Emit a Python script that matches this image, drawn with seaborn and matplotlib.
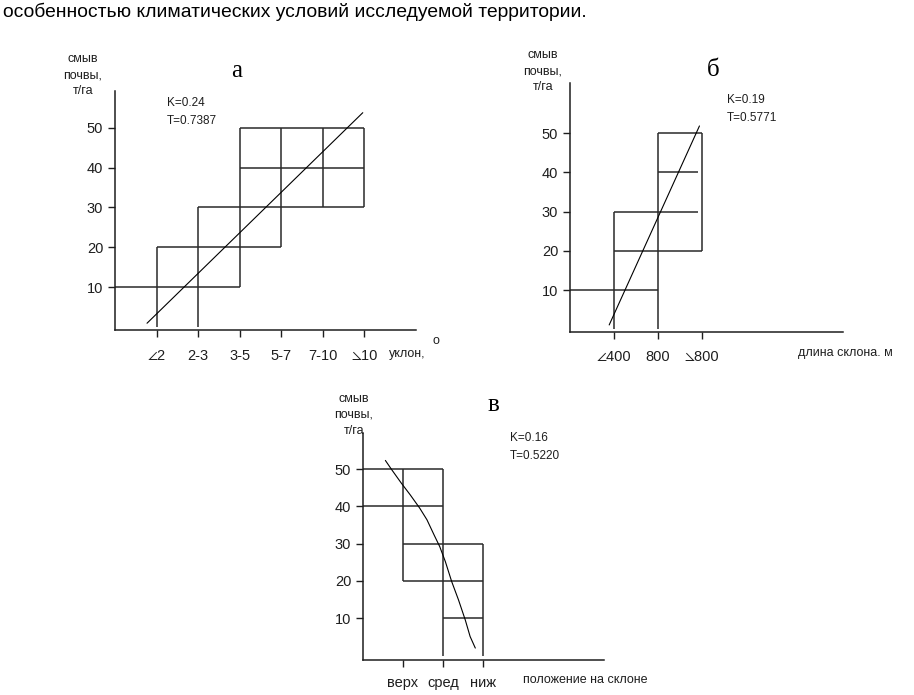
import matplotlib
matplotlib.use("Agg")
import matplotlib.pyplot as plt
import numpy as np
import pandas as pd
import seaborn as sns

# ---------------- data ----------------
top_text = "особенностью климатических условий исследуемой территории."
y_label = "смыв\nпочвы,\nт/га"
y_ticks = [10, 20, 30, 40, 50]

# panel а : slope steepness
a_title = "а"
a_categories = ["∠2", "2-3", "3-5", "5-7", "7-10", "⦣10"]
a_xlabel = "уклон,"
a_stats = "K=0.24\nT=0.7387"
a_h_y = [10, 20, 30, 40, 50]
a_h_x0 = [0, 1, 2, 3, 3]
a_h_x1 = [3, 4, 6, 6, 6]
a_v_x = [1, 2, 3, 4, 5, 6]
a_v_y0 = [0, 0, 10, 20, 30, 30]
a_v_y1 = [20, 30, 50, 50, 50, 50]
a_fit_x = [0.77, 5.96]
a_fit_y = [0.9, 53.8]

# panel б : slope length
b_title = "б"
b_categories = ["∠400", "800", "⦣800"]
b_xlabel = "длина склона. м"
b_stats = "K=0.19\nT=0.5771"
b_h_y = [10, 20, 30, 40, 50]
b_h_x0 = [0, 1, 1, 2, 2]
b_h_x1 = [2, 3, 2.9, 2.9, 3]
b_v_x = [1, 2, 3]
b_v_y0 = [0, 0, 20]
b_v_y1 = [30, 50, 50]
b_fit_x = [0.89, 2.94]
b_fit_y = [1.1, 51.8]

# panel в : position on slope
c_title = "в"
c_categories = ["верх", "сред", "ниж"]
c_xlabel = "положение на склоне"
c_stats = "K=0.16\nT=0.5220"
c_h_y = [50, 40, 30, 20, 10]
c_h_x0 = [0, 0, 1, 1, 2]
c_h_x1 = [2, 2, 3, 3, 3]
c_v_x = [1, 2, 3]
c_v_y0 = [20, 0, 0]
c_v_y1 = [50, 50, 30]
c_fit_x = [0.56, 0.72, 0.96, 1.18, 1.42, 1.60, 1.78, 1.92, 2.06, 2.22, 2.39, 2.56, 2.68, 2.81]
c_fit_y = [52.3, 49.8, 46.2, 43.1, 39.5, 36.4, 32.3, 29.2, 25.2, 19.8, 14.9, 9.5, 5.1, 2.0]

# ---------------- style ----------------
sns.set_theme(style="white")
plt.rcParams["font.family"] = ["Liberation Sans", "DejaVu Sans"]
SYM = ["Liberation Sans", "STIXGeneral", "DejaVu Sans"]
INK = "#1e1e1e"
BOX = "#2a2a2a"

W, H = 914, 695
fig = plt.figure(figsize=(W / 100, H / 100), dpi=100)
fig.patch.set_facecolor("white")


def fx(x):
    return x / W


def fy(y):
    return 1 - y / H


def make_axes(l, t, r, b):
    return fig.add_axes([fx(l), fy(b), (r - l) / W, (b - t) / H])


def draw_panel(ax, cats, h_y, h_x0, h_x1, v_x, v_y0, v_y1, fit_x, fit_y,
               xlim, ylim, xpad):
    ax.set_facecolor("white")
    ax.hlines(h_y, h_x0, h_x1, colors=BOX, linewidth=1.1)
    ax.vlines(v_x, v_y0, v_y1, colors=BOX, linewidth=1.1)
    fit = pd.DataFrame({"x": fit_x, "y": fit_y})
    sns.lineplot(data=fit, x="x", y="y", ax=ax, color="black",
                 linewidth=0.8, sort=False, estimator=None)
    ax.set_xlim(*xlim)
    ax.set_ylim(*ylim)
    ax.set_xticks(range(1, len(cats) + 1))
    ax.set_xticklabels(cats, family=SYM)
    ax.set_yticks(y_ticks)
    ax.set_yticklabels([str(v) for v in y_ticks])
    ax.set_xlabel("")
    ax.set_ylabel("")
    for s in ["top", "right"]:
        ax.spines[s].set_visible(False)
    for s in ["left", "bottom"]:
        ax.spines[s].set_color(INK)
        ax.spines[s].set_linewidth(1.1)
    ax.tick_params(axis="both", direction="out", length=5, width=1.0,
                   colors=INK, labelsize=10.5, labelcolor=INK)
    ax.tick_params(axis="x", pad=xpad)
    ax.tick_params(axis="y", pad=3.5)
    ax.tick_params(left=True, bottom=True)


# panel а
ax_a = make_axes(115, 91, 416, 330)
draw_panel(ax_a, a_categories, a_h_y, a_h_x0, a_h_x1, a_v_x, a_v_y0, a_v_y1,
           a_fit_x, a_fit_y, (0, 7.24), (-0.8, 59.25), 8.5)
# panel б
ax_b = make_axes(570, 83, 843, 332)
draw_panel(ax_b, b_categories, b_h_y, b_h_x0, b_h_x1, b_v_x, b_v_y0, b_v_y1,
           b_fit_x, b_fit_y, (0, 6.2), (-0.7, 62.74), 8)
# panel в
ax_c = make_axes(363, 433, 604, 660)
draw_panel(ax_c, c_categories, c_h_y, c_h_x0, c_h_x1, c_v_x, c_v_y0, c_v_y1,
           c_fit_x, c_fit_y, (0, 6.03), (-1.2, 59.66), 6.5)

# titles
for t, (x, y) in [(a_title, (237, 71)), (b_title, (713, 70)), (c_title, (493, 405))]:
    fig.text(fx(x), fy(y), t, family=["Liberation Serif", "DejaVu Serif"],
             fontsize=18, ha="center", va="center", color="black")

# y labels
for x, y in [(83, 75), (543, 71), (354, 415)]:
    fig.text(fx(x), fy(y), y_label, fontsize=9, ha="center", va="center",
             multialignment="center", linespacing=1.45, color=INK)

# stats
for s, (x, y) in [(a_stats, (167, 112)), (b_stats, (727, 109)), (c_stats, (510, 447))]:
    fig.text(fx(x), fy(y), s, fontsize=8.5, ha="left", va="center",
             linespacing=1.6, color=INK)

# x labels
fig.text(fx(389), fy(354), a_xlabel, fontsize=9, ha="left", va="center", color=INK)
fig.text(fx(436), fy(341), "o", fontsize=9, ha="center", va="center", color=INK)
fig.text(fx(798), fy(353), b_xlabel, fontsize=9, ha="left", va="center", color=INK)
fig.text(fx(523), fy(680), c_xlabel, fontsize=9, ha="left", va="center", color=INK)

# top text, fitted to the reference width
tt = fig.text(fx(3), fy(12), top_text, fontsize=14, ha="left", va="center",
              family=["Liberation Sans Narrow", "Liberation Sans", "DejaVu Sans"],
              color="black")
fig.canvas.draw()
w = tt.get_window_extent().width
tt.set_fontsize(14 * 585 / w)

fig.savefig("out.png", dpi=100, facecolor="white")
